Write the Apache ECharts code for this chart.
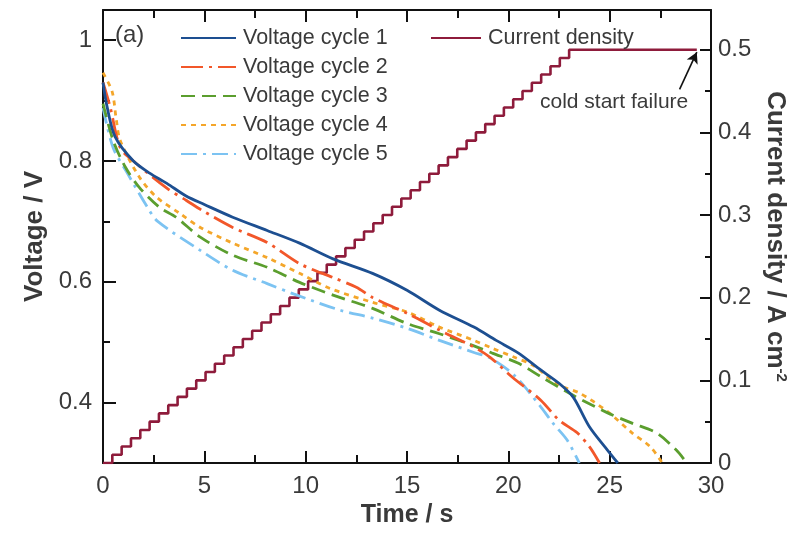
<!DOCTYPE html>
<html>
<head>
<meta charset="utf-8">
<script src="https://cdn.jsdelivr.net/npm/echarts@6/dist/echarts.min.js"></script>
<style>
html,body{margin:0;padding:0;background:#fff;}
#chart{width:807px;height:535px;}
</style>
</head>
<body>
<div id="chart"></div>
<script>
// ---- data ----
const cycle1T = [0, 0.2, 0.6, 1.5, 2.3, 3.15, 4.1, 5, 6.4, 8.1, 9.7, 11.35, 13.3, 15, 16.6, 18.3, 19.4, 20.5, 21.6, 22.5, 23.2, 24.0, 24.9, 25.4];
const cycle1V = [0.93, 0.89, 0.84, 0.80, 0.78, 0.763, 0.742, 0.728, 0.707, 0.685, 0.664, 0.638, 0.614, 0.586, 0.553, 0.525, 0.503, 0.482, 0.454, 0.432, 0.409, 0.36, 0.321, 0.30];
const cycle2T = [0, 0.35, 0.85, 1.5, 3.15, 4.1, 4.9, 6.4, 8.1, 9.7, 11.35, 12.5, 13.3, 15, 16.6, 18.3, 19.1, 20.2, 21.6, 22.5, 23.4, 24.0, 24.5];
const cycle2V = [0.93, 0.89, 0.822, 0.80, 0.755, 0.735, 0.718, 0.69, 0.665, 0.63, 0.607, 0.591, 0.574, 0.548, 0.52, 0.492, 0.475, 0.442, 0.404, 0.371, 0.35, 0.327, 0.30];
const cycle3T = [0, 0.5, 1.1, 1.8, 2.8, 3.6, 4.8, 6.4, 8.1, 9.7, 11.35, 13.3, 15, 16.6, 18.3, 19.2, 20.5, 21.6, 23.2, 24.9, 26.1, 27.3, 28.3, 28.8];
const cycle3V = [0.895, 0.834, 0.79, 0.756, 0.723, 0.707, 0.674, 0.644, 0.624, 0.599, 0.578, 0.556, 0.531, 0.514, 0.494, 0.482, 0.465, 0.443, 0.412, 0.383, 0.366, 0.35, 0.321, 0.30];
const cycle4T = [0, 0.45, 0.65, 0.85, 1.8, 2.65, 3.8, 4.8, 6.4, 8.1, 9.7, 11.2, 13.3, 15, 16.6, 18.3, 19.2, 20.3, 21.2, 22.5, 23.5, 24.9, 26.1, 27.0, 27.6];
const cycle4V = [0.946, 0.915, 0.87, 0.834, 0.773, 0.74, 0.713, 0.69, 0.664, 0.64, 0.614, 0.589, 0.566, 0.55, 0.525, 0.503, 0.49, 0.475, 0.462, 0.429, 0.416, 0.385, 0.35, 0.327, 0.30];
const cycle5T = [0, 0.5, 1.2, 2.2, 2.7, 4.8, 6.4, 8.1, 9.4, 11.7, 13.3, 15, 16.6, 18.3, 19.1, 20.3, 21.6, 22.2, 22.9, 23.5];
const cycle5V = [0.888, 0.822, 0.78, 0.723, 0.70, 0.652, 0.619, 0.597, 0.58, 0.553, 0.54, 0.523, 0.503, 0.483, 0.474, 0.445, 0.393, 0.366, 0.338, 0.30];
const currentT = [0, 0.46, 0.92, 1.38, 1.84, 2.3, 2.76, 3.22, 3.68, 4.14, 4.6, 5.06, 5.52, 5.98, 6.44, 6.9, 7.36, 7.82, 8.28, 8.74, 9.2, 9.66, 10.12, 10.58, 11.04, 11.5, 11.96, 12.42, 12.88, 13.34, 13.8, 14.26, 14.72, 15.18, 15.64, 16.1, 16.56, 17.02, 17.48, 17.94, 18.4, 18.86, 19.32, 19.78, 20.24, 20.7, 21.16, 21.62, 22.08, 22.54, 23.0, 29.3];
const currentI = [0, 0.01, 0.02, 0.03, 0.04, 0.05, 0.06, 0.07, 0.08, 0.09, 0.10, 0.11, 0.12, 0.13, 0.14, 0.15, 0.16, 0.17, 0.18, 0.19, 0.20, 0.21, 0.22, 0.23, 0.24, 0.25, 0.26, 0.27, 0.28, 0.29, 0.30, 0.31, 0.32, 0.33, 0.34, 0.35, 0.36, 0.37, 0.38, 0.39, 0.40, 0.41, 0.42, 0.43, 0.44, 0.45, 0.46, 0.47, 0.48, 0.49, 0.50, 0.50];
const arrowFrom = [28.45, 0.452];
const arrowTo = [29.3, 0.497];

const xMajor = [0, 5, 10, 15, 20, 25, 30];
const xMinor = [2.5, 7.5, 12.5, 17.5, 22.5, 27.5];
const vMajor = [0.4, 0.6, 0.8, 1.0];
const vMinor = [0.5, 0.7, 0.9];
const iMajor = [0, 0.1, 0.2, 0.3, 0.4, 0.5];
const iMinor = [0.05, 0.15, 0.25, 0.35, 0.45];

const names = ['Voltage cycle 1', 'Voltage cycle 2', 'Voltage cycle 3', 'Voltage cycle 4', 'Voltage cycle 5'];
const colors = ['#1d4f91', '#f2572a', '#5b9e2e', '#f4a62a', '#7cc3f2'];
const dashes = ['solid', [22, 6, 3, 6], [14, 7], [5, 5], [16, 6, 3, 6]];

// ---- build ----
const pairs = (a, b) => a.map((v, i) => [v, b[i]]);
const cyclesT = [cycle1T, cycle2T, cycle3T, cycle4T, cycle5T];
const cyclesV = [cycle1V, cycle2V, cycle3V, cycle4V, cycle5V];

const FONT = 'Liberation Sans, Arial, sans-serif';
const TXT = '#3a3a3a';
const axisLineStyle = { color: '#111', width: 2 };

function tickAxis(base, values, len, showLine) {
  return Object.assign({}, base, {
    axisLine: { show: !!showLine, onZero: false, lineStyle: axisLineStyle },
    axisTick: { show: true, inside: true, length: len, customValues: values, lineStyle: { color: '#111', width: 2 } },
    axisLabel: { show: false },
    splitLine: { show: false }
  });
}

const xBase = { type: 'value', min: 0, max: 30, gridIndex: 0 };
const vBase = { type: 'value', min: 0.3, max: 1.05, gridIndex: 0 };
const iBase = { type: 'value', min: 0, max: 0.548, gridIndex: 0 };

const xAxis = [
  Object.assign({}, xBase, {
    position: 'bottom',
    name: 'Time / s', nameLocation: 'middle', nameGap: 39,
    nameTextStyle: { fontFamily: FONT, fontSize: 25, fontWeight: 'bold', color: TXT },
    axisLine: { show: true, onZero: false, lineStyle: axisLineStyle },
    axisTick: { show: true, inside: true, length: 12, customValues: xMajor, lineStyle: { color: '#111', width: 2 } },
    axisLabel: { show: true, customValues: xMajor, margin: 11, fontFamily: FONT, fontSize: 24, color: TXT },
    splitLine: { show: false }
  }),
  tickAxis(Object.assign({}, xBase, { position: 'bottom' }), xMinor, 8, false),
  tickAxis(Object.assign({}, xBase, { position: 'top' }), xMajor, 12, true),
  tickAxis(Object.assign({}, xBase, { position: 'top' }), xMinor, 8, false)
];

const yAxis = [
  Object.assign({}, vBase, {
    position: 'left',
    name: 'Voltage / V', nameLocation: 'middle', nameGap: 55, nameRotate: 90,
    nameTextStyle: { fontFamily: FONT, fontSize: 26, fontWeight: 'bold', color: TXT },
    axisLine: { show: true, onZero: false, lineStyle: axisLineStyle },
    axisTick: { show: true, inside: true, length: 13, customValues: vMajor, lineStyle: { color: '#111', width: 2 } },
    axisLabel: { show: true, customValues: vMajor, margin: 11, fontFamily: FONT, fontSize: 24, color: TXT, formatter: v => String(+v.toFixed(2)) },
    splitLine: { show: false }
  }),
  Object.assign({}, iBase, {
    position: 'right',
    name: '{t|Current density / A cm}{s|-2}', nameLocation: 'middle', nameGap: 50, nameRotate: -90,
    nameTextStyle: { fontFamily: FONT, fontSize: 26, fontWeight: 'bold', color: TXT,
      rich: { t: { fontFamily: FONT, fontSize: 26, fontWeight: 'bold', color: TXT },
              s: { fontFamily: FONT, fontSize: 15, fontWeight: 'bold', color: TXT, verticalAlign: 'top', padding: [0, 0, 10, 0] } } },
    axisLine: { show: true, onZero: false, lineStyle: axisLineStyle },
    axisTick: { show: true, inside: true, length: 11, customValues: iMajor, lineStyle: { color: '#111', width: 2 } },
    axisLabel: { show: true, customValues: iMajor, margin: 7, fontFamily: FONT, fontSize: 24, color: TXT, formatter: v => String(+v.toFixed(2)) },
    splitLine: { show: false }
  }),
  tickAxis(Object.assign({}, vBase, { position: 'left' }), vMinor, 7, false),
  tickAxis(Object.assign({}, iBase, { position: 'right' }), iMinor, 6, false)
];

const series = names.map((n, k) => ({
  name: n, type: 'line', xAxisIndex: 0, yAxisIndex: 0,
  data: pairs(cyclesT[k], cyclesV[k]),
  smooth: 0.3, showSymbol: false, symbol: 'none',
  lineStyle: { color: colors[k], width: 2.8, type: dashes[k] },
  itemStyle: { color: colors[k] },
  z: 3 + (4 - k)
}));

series.push({
  name: 'Current density', type: 'line', xAxisIndex: 0, yAxisIndex: 1,
  data: pairs(currentT, currentI),
  step: 'end', showSymbol: false, symbol: 'none',
  lineStyle: { color: '#8e1b3b', width: 2.6 },
  itemStyle: { color: '#8e1b3b' },
  z: 2,
  markLine: {
    silent: true, symbol: ['none', 'arrow'], symbolSize: [9, 11],
    label: { show: false },
    lineStyle: { color: '#111', width: 1.6, type: 'solid' },
    data: [[{ coord: arrowFrom }, { coord: arrowTo }]]
  }
});

const legendCommon = {
  orient: 'vertical', itemHeight: 14, selectedMode: false,
  itemStyle: { opacity: 0, color: 'rgba(0,0,0,0)', borderWidth: 0 },
  textStyle: { fontFamily: FONT, fontSize: 21.5, color: TXT, padding: [0, 0, 0, 2] }
};

const chart = echarts.init(document.getElementById('chart'), null, { renderer: 'canvas' });
chart.setOption({
  backgroundColor: '#ffffff',
  animation: false,
  textStyle: { fontFamily: FONT },
  grid: { left: 103, top: 10, right: 96, bottom: 72, containLabel: false },
  xAxis: xAxis,
  yAxis: yAxis,
  legend: [
    Object.assign({}, legendCommon, { data: names, left: 175, top: 22, itemWidth: 55, itemGap: 7 }),
    Object.assign({}, legendCommon, { data: ['Current density'], left: 425, top: 22, itemWidth: 50 })
  ],
  graphic: [
    { type: 'text', left: 115, top: 23, style: { text: '(a)', font: '24px ' + FONT, fill: TXT } },
    { type: 'text', left: 540, top: 92, style: { text: 'cold start failure', font: '21px ' + FONT, fill: TXT } }
  ],
  series: series
});
</script>
</body>
</html>
